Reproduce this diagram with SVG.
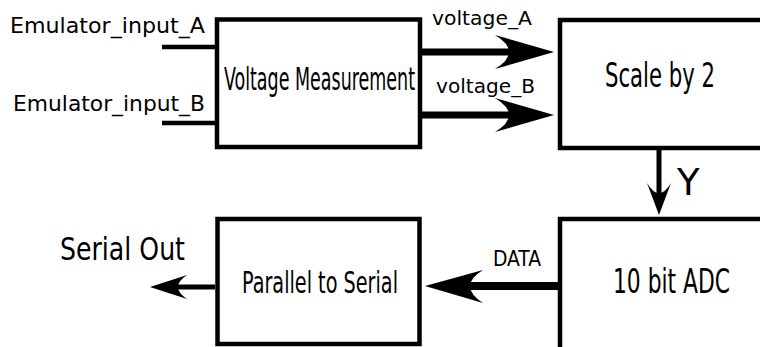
<svg xmlns="http://www.w3.org/2000/svg" width="760" height="347" viewBox="0 0 760 347">
<style>
.box{fill:#fff;stroke:#000;stroke-width:4.5}
.ln{stroke:#000;fill:none}
.hd{fill:#000;stroke:none}
.t{font-family:"DejaVu Sans","Liberation Sans",sans-serif;fill:#000}
.c{font-family:"DejaVu Sans Condensed","DejaVu Sans","Liberation Sans Narrow",sans-serif;fill:#000}
</style>
<rect width="760" height="347" fill="#fff"/>
<g id="connectors">
<line class="ln" x1="162" y1="47" x2="217" y2="47" stroke-width="4.5"/>
<line class="ln" x1="162" y1="123" x2="217" y2="123" stroke-width="4.5"/>
<line class="ln" x1="420" y1="52" x2="515" y2="52" stroke-width="7"/>
<path class="hd" d="M554,52 L495,35 Q523,52 495,69 Z"/>
<line class="ln" x1="420" y1="115" x2="515" y2="115" stroke-width="7"/>
<path class="hd" d="M554,115 L495,98 Q523,115 495,132 Z"/>
<line class="ln" x1="659" y1="148" x2="659" y2="196" stroke-width="5"/>
<path class="hd" d="M659,215 L647,183 Q659,203 671,183 Z"/>
<line class="ln" x1="558" y1="286" x2="465" y2="286" stroke-width="8"/>
<path class="hd" d="M425,286 L483,270 Q457,286 483,303 Z"/>
<line class="ln" x1="215" y1="287" x2="175" y2="287" stroke-width="5"/>
<path class="hd" d="M150,287 L187,275 Q169,287 187,299 Z"/>
</g>
<g id="labels">
<text class="t" x="10" y="33" font-size="21" textLength="195" lengthAdjust="spacingAndGlyphs">Emulator_input_A</text>
<text class="t" x="13" y="111" font-size="21" textLength="192" lengthAdjust="spacingAndGlyphs">Emulator_input_B</text>
<text class="t" x="432" y="25" font-size="20" textLength="100" lengthAdjust="spacingAndGlyphs">voltage_A</text>
<text class="t" x="436" y="93" font-size="20" textLength="99" lengthAdjust="spacingAndGlyphs">voltage_B</text>
<text class="t" x="677" y="195" font-size="37">Y</text>
<text class="c" x="493" y="266" font-size="22" textLength="48" lengthAdjust="spacingAndGlyphs">DATA</text>
<text class="c" x="60" y="260" font-size="32" textLength="125" lengthAdjust="spacingAndGlyphs">Serial Out</text>
</g>
<g id="voltage-measurement">
<rect class="box" x="217" y="19.5" width="203" height="127.5"/>
<text class="c" x="224" y="90" font-size="32" textLength="191" lengthAdjust="spacingAndGlyphs">Voltage Measurement</text>
</g>
<g id="scale-by-2">
<rect class="box" x="560" y="20" width="230" height="128"/>
<text class="c" x="605" y="87" font-size="33" textLength="110" lengthAdjust="spacingAndGlyphs">Scale by 2</text>
</g>
<g id="adc">
<rect class="box" x="560" y="219" width="230" height="160"/>
<text class="c" x="613" y="293" font-size="34" textLength="117" lengthAdjust="spacingAndGlyphs">10 bit ADC</text>
</g>
<g id="parallel-to-serial">
<rect class="box" x="217.5" y="219" width="202" height="125"/>
<text class="c" x="242" y="293" font-size="30" textLength="156" lengthAdjust="spacingAndGlyphs">Parallel to Serial</text>
</g>
</svg>
